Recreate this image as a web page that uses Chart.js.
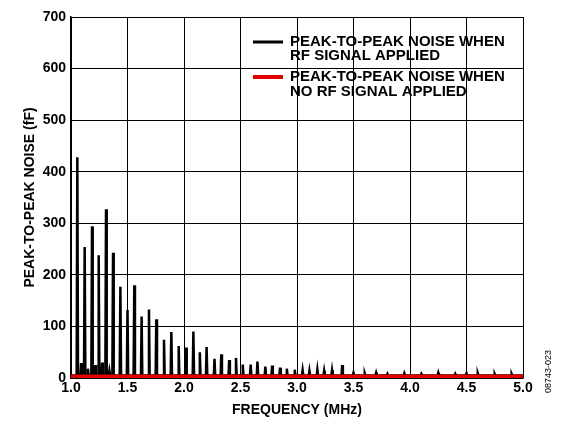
<!DOCTYPE html>
<html>
<head>
<meta charset="utf-8">
<script src="https://cdn.jsdelivr.net/npm/chart.js@4/dist/chart.umd.min.js"></script>
<style>
  html, body { margin: 0; padding: 0; background: #fff; }
  #wrap { width: 579px; height: 431px; }
</style>
</head>
<body>
<div id="wrap"><canvas id="myChart"></canvas></div>
<script>
// main peaks (MHz, fF)
const spikeFreq = [1.056, 1.090, 1.121, 1.150, 1.186, 1.215, 1.245, 1.275, 1.310, 1.340, 1.372, 1.437, 1.50, 1.56, 1.625, 1.69, 1.755, 1.823, 1.888, 1.953, 2.018, 2.083, 2.14, 2.20, 2.27, 2.33, 2.40, 2.46, 2.52, 2.59, 2.65, 2.72, 2.78, 2.85, 2.91, 2.98, 3.05, 3.11, 3.18, 3.24, 3.31, 3.40, 3.50, 3.60, 3.70, 3.80, 3.95, 4.10, 4.25, 4.40, 4.50, 4.60, 4.75, 4.90];
const spikeVal  = [428, 29, 254, 18, 294, 25, 238, 30, 327, 14, 243, 177, 132, 180, 119, 133, 114, 74, 89, 62, 59, 90, 50, 60, 37, 46, 35, 39, 26, 26, 32, 22, 24, 20, 18, 16, 15, 14, 16, 14, 15, 25, 10, 9, 10, 8, 9, 8, 10, 8, 9, 9, 8, 8];
const baseVal = 5;
const quietFreq = [1.0, 1.5, 2.0, 2.5, 3.0, 3.5, 4.0, 4.5, 5.0];
const quietVal  = [3, 3, 3, 3, 3, 3, 3, 3, 3];
const xTicks = ["1.0", "1.5", "2.0", "2.5", "3.0", "3.5", "4.0", "4.5", "5.0"];

const rfPoints = [{ x: 1.0, y: baseVal }];
spikeFreq.forEach((f, i) => {
  rfPoints.push({ x: f - 0.006, y: baseVal });
  rfPoints.push({ x: f, y: spikeVal[i] });
  rfPoints.push({ x: f + 0.006, y: baseVal });
});
rfPoints.push({ x: 5.0, y: baseVal });
const quietPoints = quietFreq.map((f, i) => ({ x: f, y: quietVal[i] }));

const font = "'Liberation Sans', Arial, sans-serif";

const extras = {
  id: "extras",
  afterDraw(chart) {
    const c = chart.ctx;
    c.save();
    c.font = "bold 15px " + font;
    c.fillStyle = "#000";
    c.textBaseline = "middle";
    c.lineWidth = 3;
    c.strokeStyle = "#000";
    c.beginPath(); c.moveTo(253, 42); c.lineTo(283, 42); c.stroke();
    c.fillText("PEAK-TO-PEAK NOISE WHEN", 290, 42);
    c.fillText("RF SIGNAL APPLIED", 290, 56);
    c.strokeStyle = "#e00000";
    c.lineWidth = 4;
    c.beginPath(); c.moveTo(253, 77); c.lineTo(283, 77); c.stroke();
    c.fillText("PEAK-TO-PEAK NOISE WHEN", 290, 77);
    c.fillText("NO RF SIGNAL APPLIED", 290, 92);
    c.translate(549, 393);
    c.rotate(-Math.PI / 2);
    c.font = "9px " + font;
    c.fillText("08743-023", 0, 0);
    c.restore();
  }
};

new Chart(document.getElementById("myChart"), {
  type: "line",
  data: {
    datasets: [
      { data: quietPoints, borderColor: "#e00000", borderWidth: 4, pointRadius: 0, order: 0 },
      { data: rfPoints, borderColor: "#000", borderWidth: 2.5, pointRadius: 0, order: 1 }
    ]
  },
  options: {
    responsive: true,
    maintainAspectRatio: false,
    animation: false,
    layout: { padding: { left: 18, right: 56, top: 17, bottom: 8 } },
    plugins: { legend: { display: false }, tooltip: { enabled: false } },
    scales: {
      x: {
        type: "linear", min: 1, max: 5,
        afterBuildTicks: s => { s.ticks = xTicks.map(t => ({ value: parseFloat(t) })); },
        afterFit: s => { s.height = 45; },
        ticks: { callback: v => v.toFixed(1), color: "#000", font: { family: font, size: 14, weight: "bold" }, padding: 2, maxRotation: 0 },
        grid: { color: "#000", lineWidth: 1, drawTicks: false },
        border: { color: "#000", width: 1.5 },
        title: { display: true, text: "FREQUENCY (MHz)", color: "#000", font: { family: font, size: 14, weight: "bold" }, padding: { top: 4 } }
      },
      y: {
        min: 0, max: 700,
        afterFit: s => { s.width = 53; },
        ticks: { stepSize: 100, color: "#000", font: { family: font, size: 14, weight: "bold" }, padding: 5 },
        grid: { color: "#000", lineWidth: 1, drawTicks: false },
        border: { color: "#000", width: 1.5 },
        title: { display: true, text: "PEAK-TO-PEAK NOISE (fF)", color: "#000", font: { family: font, size: 14, weight: "bold" }, padding: { bottom: 2 } }
      }
    }
  },
  plugins: [extras]
});
</script>
</body>
</html>
